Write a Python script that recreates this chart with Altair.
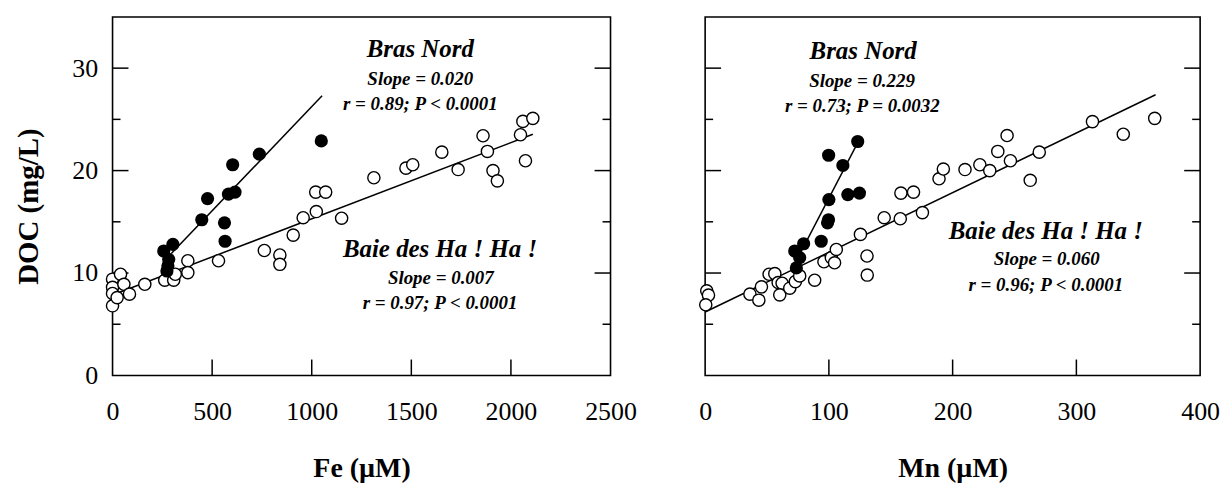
import altair as alt
import pandas as pd

# ---------------- data ----------------
# Left panel: Fe (µM) vs DOC (mg/L)
fe_baie = [0, 0, 0, 0, 23, 40, 57, 85, 162, 262, 307, 315, 378, 378, 532, 762, 840, 840,
           907, 957, 1020, 1023, 1070, 1150, 1312, 1473, 1507, 1653, 1735, 1860, 1882,
           1910, 1932, 2048, 2060, 2073, 2110]
doc_fe_baie = [9.4, 8.6, 8.0, 6.8, 7.6, 9.88, 8.9, 7.94, 8.9, 9.3, 9.3, 9.88, 11.2, 10.04,
               11.2, 12.2, 11.76, 10.85, 13.7, 15.4, 17.9, 16.0, 17.9, 15.35, 19.3, 20.24,
               20.57, 21.8, 20.1, 23.4, 21.87, 20.0, 19.0, 23.5, 24.8, 20.96, 25.1]
fe_bras = [257, 303, 282, 278, 273, 448, 477, 562, 565, 582, 615, 603, 737, 1048]
doc_fe_bras = [12.15, 12.8, 11.34, 10.7, 10.2, 15.2, 17.27, 14.9, 13.1, 17.7, 17.9, 20.57,
               21.6, 22.9]
fe_line_baie_x = [0, 2110]
fe_line_baie_y = [7.86, 23.55]
fe_line_bras_x = [295, 1052]
fe_line_bras_y = [11.9, 27.3]

# Right panel: Mn (µM) vs DOC (mg/L)
mn_baie = [1.3, 2.7, 0.5, 36.2, 43.4, 45.5, 51.7, 56.3, 59, 62.2, 60.3, 68.4, 72.9, 76.4,
           88.5, 96, 102, 104.6, 106, 125.5, 130.8, 131, 144.7, 157.7, 158.2, 168.4, 175.6,
           189, 192.5, 210, 222, 230, 236.5, 244, 246.7, 262.7, 270, 313, 337.9, 363.3]
doc_mn_baie = [8.26, 7.84, 6.9, 7.94, 7.35, 8.65, 9.88, 9.94, 9.07, 9.0, 7.87, 8.52, 9.16,
               9.72, 9.3, 11.1, 11.5, 11.0, 12.3, 13.77, 11.66, 9.8, 15.4, 15.3, 17.8, 17.9,
               15.9, 19.2, 20.15, 20.1, 20.57, 20.0, 21.87, 23.42, 20.96, 19.05, 21.8, 24.78,
               23.55, 25.1]
mn_bras = [123.3, 99.8, 111.3, 100, 115.3, 124.7, 99.7, 98.9, 93.8, 79.6, 72.4, 76.4, 73.7]
doc_mn_bras = [22.84, 21.5, 20.5, 17.17, 17.66, 17.8, 15.2, 14.9, 13.1, 12.86, 12.15, 11.5,
               10.5]
mn_line_baie_x = [0, 364]
mn_line_baie_y = [6.2, 27.4]
mn_line_bras_x = [75, 122.8]
mn_line_bras_y = [11.5, 22.6]

# Annotations
fe_ann_text = ["Bras Nord", "Slope = 0.020", "r = 0.89; P < 0.0001",
               "Baie des Ha ! Ha !", "Slope = 0.007", "r = 0.97; P < 0.0001"]
fe_ann_x = [1545, 1545, 1545, 1644, 1648, 1644]
fe_ann_y = [31.9, 28.96, 26.5, 12.31, 9.55, 7.12]
mn_ann_text = ["Bras Nord", "Slope = 0.229", "r = 0.73; P = 0.0032",
               "Baie des Ha ! Ha !", "Slope = 0.060", "r = 0.96; P < 0.0001"]
mn_ann_x = [127.7, 126.8, 127, 275.3, 276, 275.3]
mn_ann_y = [31.65, 28.7, 26.3, 14.1, 11.34, 8.81]
ann_size = [25, 19, 19, 25, 19, 19]

y_major_ticks = [10, 20, 30]
y_minor_ticks = [5, 15, 25]
y_labels = [0, 10, 20, 30]
fe_labels = [0, 500, 1000, 1500, 2000, 2500]
fe_ticks = [500, 1000, 1500, 2000]
mn_labels = [0, 100, 200, 300, 400]
mn_ticks = [100, 200, 300]

FONT = "Liberation Serif"
H = 360


def panel(x_open, y_open, x_fill, y_fill, lbx, lby, lnx, lny, ax, ay, atext,
          xmax, xlabels, xticks, xtitle, width, show_y):
    xs = alt.Scale(domain=[0, xmax], nice=False, zero=False)
    ys = alt.Scale(domain=[0, 35], nice=False, zero=False)
    xaxis = alt.Axis(values=xlabels, format="d", ticks=False, domain=False, grid=False,
                     labelFont=FONT, labelFontSize=26, labelColor="black",
                     labelPadding=23, labelFlush=False, labelOverlap=False,
                     title=xtitle, titleFont=FONT, titleFontSize=28,
                     titleFontWeight="bold", titleColor="black",
                     titleY=93, titleBaseline="middle")
    if show_y:
        yaxis = alt.Axis(values=y_labels, format="d", ticks=False, domain=False, grid=False,
                         labelFont=FONT, labelFontSize=26, labelColor="black",
                         labelPadding=15, labelFlush=False, labelOverlap=False,
                         title="DOC (mg/L)", titleFont=FONT, titleFontSize=29,
                         titleFontWeight="bold", titleColor="black",
                         titleX=-84, titleY=190, titleBaseline="middle",
                         titleAlign="center", titleAngle=270)
    else:
        yaxis = None
    X = alt.X("x:Q", scale=xs, axis=xaxis)
    Y = alt.Y("y:Q", scale=ys, axis=yaxis)

    lines_df = pd.DataFrame({
        "x": lbx + lnx, "y": lby + lny,
        "g": ["baie"] * len(lbx) + ["bras"] * len(lnx)})
    open_df = pd.DataFrame({"x": x_open, "y": y_open})
    fill_df = pd.DataFrame({"x": x_fill, "y": y_fill})
    ann_df = pd.DataFrame({"x": ax, "y": ay, "t": atext, "fs": ann_size})

    lines = alt.Chart(lines_df).mark_line(color="black", strokeWidth=1.5).encode(
        x=X, y=Y, detail="g:N")
    opens = alt.Chart(open_df).mark_point(shape="circle", filled=True, fill="white",
                                          stroke="black", strokeWidth=1.4, size=150,
                                          opacity=1).encode(x=X, y=Y)
    fills = alt.Chart(fill_df).mark_circle(color="black", size=175, opacity=1).encode(
        x=X, y=Y)
    ann = alt.Chart(ann_df).mark_text(font=FONT, fontStyle="italic", fontWeight="bold",
                                      color="black", align="center",
                                      baseline="middle").encode(
        x=X, y=Y, text="t:N", size=alt.Size("fs:Q", scale=None, legend=None))

    ymaj = pd.DataFrame({"y": y_major_ticks})
    ymin = pd.DataFrame({"y": y_minor_ticks})
    xt = pd.DataFrame({"x": xticks})
    tick_layers = []
    for df, ln in ((ymaj, 16), (ymin, 8)):
        tick_layers.append(alt.Chart(df).mark_rule(color="black", strokeWidth=1.5).encode(
            y=Y, x=alt.value(0), x2=alt.value(ln)))
        tick_layers.append(alt.Chart(df).mark_rule(color="black", strokeWidth=1.5).encode(
            y=Y, x=alt.value(width - ln), x2=alt.value(width)))
    tick_layers.append(alt.Chart(xt).mark_rule(color="black", strokeWidth=1.5).encode(
        x=X, y=alt.value(H), y2=alt.value(H - 16)))

    return alt.layer(*tick_layers, lines, opens, fills, ann).properties(
        width=width, height=H)


left = panel(fe_baie, doc_fe_baie, fe_bras, doc_fe_bras,
             fe_line_baie_x, fe_line_baie_y, fe_line_bras_x, fe_line_bras_y,
             fe_ann_x, fe_ann_y, fe_ann_text, 2500, fe_labels, fe_ticks,
             "Fe (\u00b5M)", 500, True)
right = panel(mn_baie, doc_mn_baie, mn_bras, doc_mn_bras,
              mn_line_baie_x, mn_line_baie_y, mn_line_bras_x, mn_line_bras_y,
              mn_ann_x, mn_ann_y, mn_ann_text, 400, mn_labels, mn_ticks,
              "Mn (\u00b5M)", 497, False)

chart = alt.hconcat(left, right, spacing=95, bounds="flush").properties(
    padding={"left": 14, "top": 15, "right": 10, "bottom": 5},
    background="white",
).configure_view(stroke="black", strokeWidth=1.6)

chart.save("out.html", embed_options={"renderer": "svg", "actions": False})
